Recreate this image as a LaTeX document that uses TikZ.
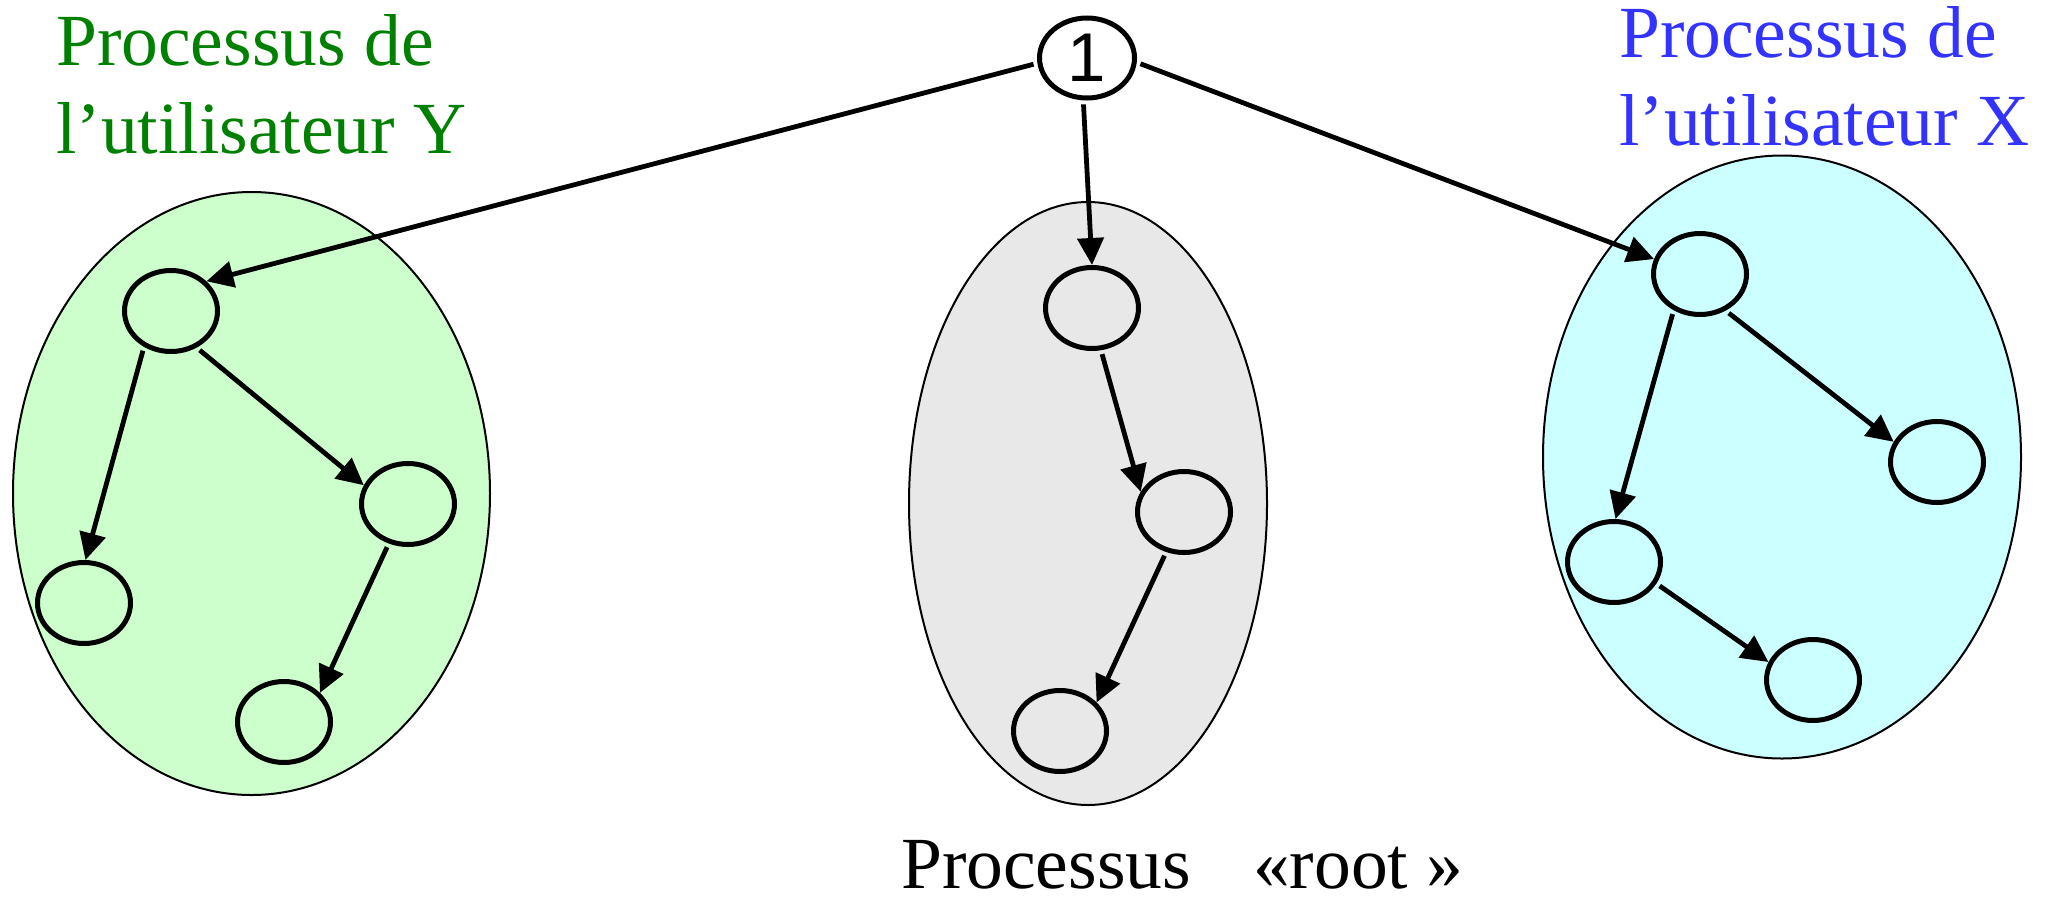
\documentclass[tikz,border=0pt]{standalone}
\usepackage{fontspec}
\setmainfont{Liberation Serif}
\newfontfamily\digitfont{Liberation Sans}
\usetikzlibrary{shapes.geometric,arrows.meta}
\definecolor{userY}{HTML}{008000}
\definecolor{userX}{HTML}{3333FF}
\definecolor{fillY}{HTML}{CCFFCC}
\definecolor{fillRoot}{HTML}{E8E8E8}
\definecolor{fillX}{HTML}{CCFFFF}
\begin{document}
\begin{tikzpicture}[x=1pt,y=-1pt,
  proc/.style={ellipse,draw,line width=5pt,minimum width=93pt,minimum height=81pt,inner sep=0pt},
  group/.style={ellipse,draw,line width=2pt,inner sep=0pt,minimum height=603pt},
  link/.style={line width=4.8pt,-{Triangle[length=27pt,width=26pt]},shorten <=4pt},
  lbl/.style={inner sep=0pt,anchor=base west,font=\fontsize{73.5}{88}\selectfont}]
\useasboundingbox (0,0) rectangle (2051,897);

% the three groups of processes
\node[group,fill=fillY,minimum width=477pt] (gY) at (251.5,493.5) {};
\node[group,fill=fillRoot,minimum width=358pt] (gRoot) at (1088,503.5) {};
\node[group,fill=fillX,minimum width=478pt] (gX) at (1782,457) {};

% init process
\node[proc,minimum width=95pt,minimum height=80pt,font=\digitfont\fontsize{69}{69}\selectfont] (n1) at (1087,58) {1};

% processes of user Y
\node[proc] (a1) at (171,311) {};
\node[proc] (a2) at (408,504) {};
\node[proc] (a3) at (84,603) {};
\node[proc] (a4) at (284,722) {};

% root processes
\node[proc] (b1) at (1092,308) {};
\node[proc] (b2) at (1184,512) {};
\node[proc] (b3) at (1060,731) {};

% processes of user X
\node[proc] (c1) at (1700,274) {};
\node[proc] (c2) at (1937,462) {};
\node[proc] (c3) at (1614,562) {};
\node[proc] (c4) at (1813,680) {};

% parent -> child links
\draw[link] (n1.186) -- (a1.40);
\draw[link] (n1.265) -- (b1.90);
\draw[link] (n1.-5) -- (c1.162);
\draw[link] (a1.233) -- (a3.88);
\draw[link] (a1.305) -- (a2.157);
\draw[link] (a2.244) -- (a4.39);
\draw[link] (b1.282) -- (b2.155);
\draw[link] (b2.246) -- (b3.38);
\draw[link] (c1.234) -- (c3.88);
\draw[link] (c1.305) -- (c2.155);
\draw[link] (c3.333) -- (c4.158);

% captions
\node[lbl,text=userY] (ya) at (56,65) {Processus de};
\node[lbl,text=userY] (yb) at (56,153) {l’utilisateur Y};
\node[lbl,text=userX] (xa) at (1619,57) {Processus de};
\node[lbl,text=userX] (xb) at (1619,145) {l’utilisateur X};
\node[lbl] (root) at (901,888) {Processus\hspace{62pt}«root »};
\end{tikzpicture}
\end{document}
